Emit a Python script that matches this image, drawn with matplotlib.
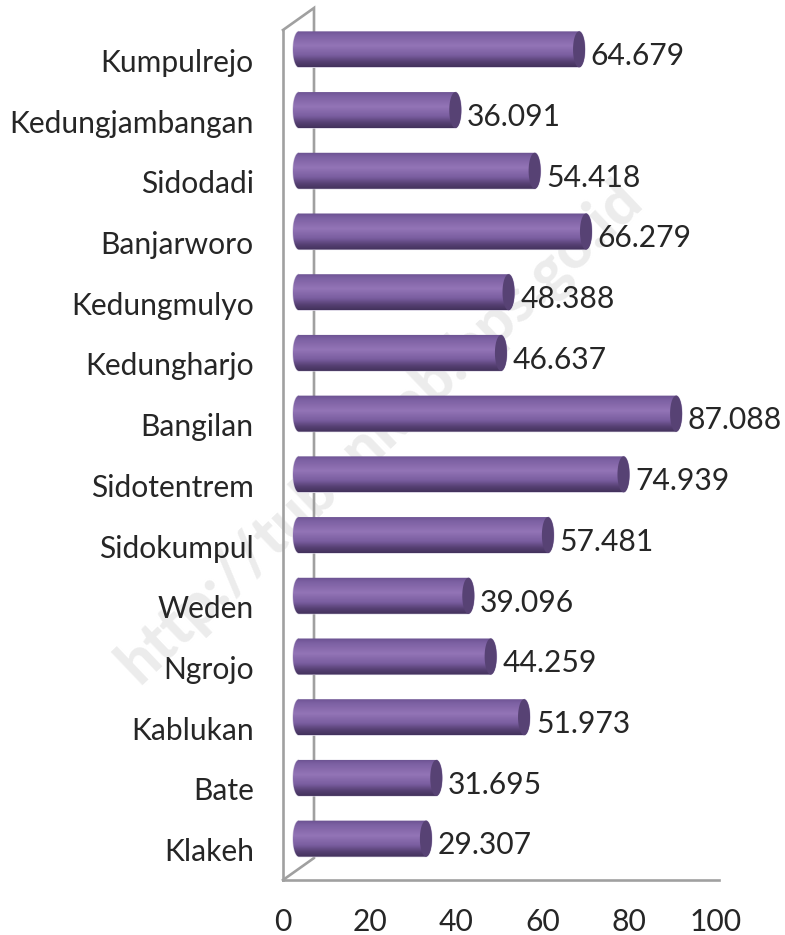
import numpy as np
import matplotlib
matplotlib.use("Agg")
import matplotlib.pyplot as plt
from matplotlib.colors import LinearSegmentedColormap
from matplotlib.patches import PathPatch
from matplotlib.path import Path
from matplotlib.transforms import ScaledTranslation

villages = ["Kumpulrejo", "Kedungjambangan", "Sidodadi", "Banjarworo", "Kedungmulyo",
            "Kedungharjo", "Bangilan", "Sidotentrem", "Sidokumpul", "Weden",
            "Ngrojo", "Kablukan", "Bate", "Klakeh"]
values = [64.679, 36.091, 54.418, 66.279, 48.388, 46.637, 87.088,
          74.939, 57.481, 39.096, 44.259, 51.973, 31.695, 29.307]
value_labels = ["64.679", "36.091", "54.418", "66.279", "48.388", "46.637", "87.088",
                "74.939", "57.481", "39.096", "44.259", "51.973", "31.695", "29.307"]
x_ticks = [0, 20, 40, 60, 80, 100]

plt.rcParams["font.family"] = ["Lato", "DejaVu Sans"]
W, H = 785, 935
TEXT = "#262626"
GRAY = "#a0a0a0"
FS = 21.6

fig = plt.figure(figsize=(W / 100, H / 100), dpi=100)
# axes box is the front wall + floor of the old 3d excel chart
ax = fig.add_axes([283 / W, 1 - 880 / H, 436 / W, 850 / H])
ax.patch.set_alpha(0)

# watermark sits behind everything
fig.text(380 / W, 1 - 432 / H, "http://tubankab.bps.go.id", rotation=43.6, color="#ececec",
         fontsize=43.5, fontweight="black", ha="center", va="center", zorder=-5,
         rotation_mode="anchor")

# back wall, shifted by the 3d depth
ax.plot([0, 0.0711, 0.0711, 0], [1, 1.0259, 0.0259, 0], color=GRAY, lw=1.9,
        transform=ax.transAxes, clip_on=False, zorder=1, solid_joinstyle="miter")

# vertical shading of the cylinders
shade = LinearSegmentedColormap.from_list(
    "cyl", [(0, "#6a5190"), (0.12, "#7c60a2"), (0.42, "#9374b6"), (0.68, "#7a5ea0"),
            (0.86, "#564073"), (1, "#43325c")])
grad = np.linspace(0, 1, 64).reshape(-1, 1)

bar_h = 36 / 60.7
rx = 6 / 4.33
tr = ax.transData + ScaledTranslation(0.16, 0.11, fig.dpi_scale_trans)

ypos = np.arange(len(villages))
bars = ax.barh(ypos, values, height=bar_h, color="#7a5ea0", linewidth=0, transform=tr,
               zorder=2, clip_on=False)

t = np.linspace(-np.pi / 2, np.pi / 2, 30)
ang = np.linspace(0, 2 * np.pi, 50)
for bar in bars:
    v = bar.get_width()
    y0 = bar.get_y()
    yc = y0 + bar_h / 2
    ry = bar_h / 2
    # rounded outline: right half ellipse then left half ellipse
    xs = np.r_[v + rx * np.cos(t), -rx * np.cos(t[::-1])]
    ys = np.r_[yc + ry * np.sin(t), yc + ry * np.sin(t[::-1])]
    body = PathPatch(Path(np.c_[xs, ys]), facecolor="none", edgecolor="#d5cfe0", lw=0.8,
                     transform=tr, zorder=3, clip_on=False)
    ax.add_patch(body)
    bar.set_visible(False)
    im = ax.imshow(grad, cmap=shade, extent=[-rx, v + rx, y0 + bar_h, y0], aspect="auto",
                   transform=tr, zorder=3, interpolation="bilinear")
    im.set_clip_path(body)
    # dark end cap
    cap = Path(np.c_[v + rx * np.cos(ang), yc + ry * np.sin(ang)])
    ax.add_patch(PathPatch(cap, facecolor="#574274", edgecolor="none", transform=tr,
                           zorder=4, clip_on=False))

for yp, v, lab in zip(ypos, values, value_labels):
    ax.annotate(lab, (v, yp), xytext=(20, 3), textcoords="offset points", ha="left",
                va="center", fontsize=FS, color=TEXT, zorder=5)

ax.set_xlim(0, 100.7)
ax.set_ylim(13.5, -0.5)
ax.set_xticks(x_ticks)
ax.set_yticks(ypos)
ax.set_yticklabels(villages)
ax.tick_params(axis="both", length=0, labelsize=FS, labelcolor=TEXT)
ax.tick_params(axis="y", pad=21)
ax.tick_params(axis="x", pad=20)
for side in ("top", "right"):
    ax.spines[side].set_visible(False)
for side in ("left", "bottom"):
    ax.spines[side].set_color(GRAY)
    ax.spines[side].set_linewidth(1.9)

fig.savefig("out.png", dpi=100, facecolor="white")
